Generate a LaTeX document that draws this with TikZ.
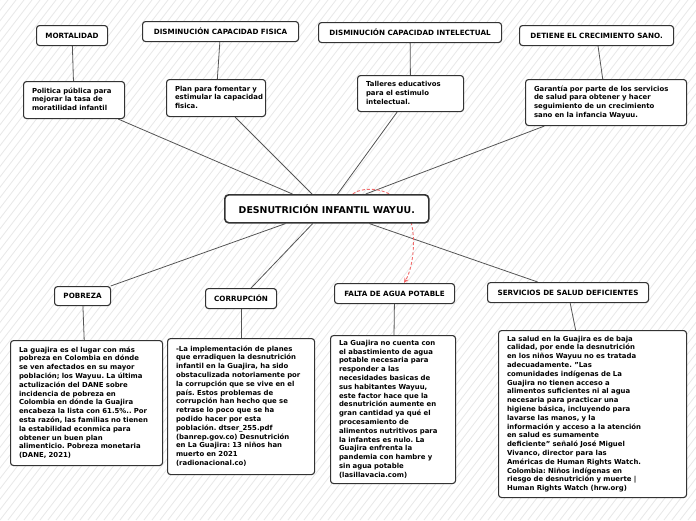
\documentclass[tikz,border=0pt]{standalone}
\usepackage{fontspec}
\setmainfont{DejaVu Sans}
\usepackage{tikz}
\usetikzlibrary{arrows.meta}
\usetikzlibrary{backgrounds}
\usetikzlibrary{calc}
\hfuzz=30pt
\hbadness=10000
\frenchspacing
\newcommand{\bodyfont}{\fontsize{6.9}{8.8}\selectfont\bfseries}
\newcommand{\headfont}{\fontsize{7.2}{9}\selectfont\bfseries}
\newcommand{\mainfont}{\fontsize{9.4}{11}\selectfont\bfseries}
\newcommand{\txtlines}[1]{\begin{tabular}{@{}l@{}}#1\end{tabular}}
\definecolor{hatchgray}{HTML}{E8E8E8}
\definecolor{boxline}{HTML}{333333}
\definecolor{linkgray}{HTML}{555555}
\definecolor{dashred}{HTML}{F26B6B}
\pgfdeclarelayer{hatch}
\pgfdeclarelayer{links}
\pgfsetlayers{hatch,links,main}
\begin{document}
\begin{tikzpicture}[x=1pt, y=-1pt]
	\tikzstyle{box}=[draw=boxline, fill=white, rounded corners=3pt, line width=1.1pt];
	\tikzstyle{head}=[box, font=\headfont, anchor=north west, align=center, inner sep=0pt];
	\tikzstyle{txt}=[box, font=\bodyfont, anchor=north west, align=left,
	                 inner xsep=8.5pt, inner ysep=0pt];
	\tikzstyle{link}=[draw=linkgray, line width=0.8pt];
	\tikzstyle{redlink}=[draw=dashred, line width=0.9pt, dash pattern=on 3pt off 2pt,
	                     -{Stealth[length=5pt, width=4.5pt]}];
	\useasboundingbox (0,0) rectangle (696,520);
	% background stripes
	\begin{pgfonlayer}{hatch}
	\fill[white] (0,0) rectangle (696,520);
	\begin{scope}
	\clip (0,0) rectangle (696,520);
	\foreach \i in {-400,-392,...,700}
	{\draw[hatchgray, line width=0.8pt] (\i,520) -- (\i+400,0);}
	\end{scope}
	\end{pgfonlayer}
	% top row
	\node[head, minimum width=71pt, minimum height=20pt] (mort) at (36,25) {MORTALIDAD};
	\node[head, minimum width=156pt, minimum height=20pt] (fisica) at (142,21) {DISMINUCIÓN CAPACIDAD FISICA};
	\node[head, minimum width=183pt, minimum height=20pt] (intel) at (318,22) {DISMINUCIÓN CAPACIDAD INTELECTUAL};
	\node[head, minimum width=154pt, minimum height=20pt] (sano) at (519,25) {DETIENE EL CRECIMIENTO SANO.};
	\node[txt, text width=84pt, minimum height=37pt] (politica) at (23,81)
	  {\txtlines{Politica pública para\\mejorar la tasa de\\moratilidad infantil}};
	\node[txt, text width=82pt, minimum height=37pt] (plan) at (166,79)
	  {\txtlines{Plan para fomentar y\\estimular la capacidad\\fisica.}};
	\node[txt, text width=89pt, minimum height=36pt] (talleres) at (357,75)
	  {\txtlines{Talleres educativos\\para el estimulo\\intelectual.}};
	\node[txt, text width=144pt, minimum height=46pt] (garantia) at (525,79)
	  {\txtlines{Garantía por parte de los servicios\\de salud para obtener y hacer\\seguimiento de un crecimiento\\sano en la infancia Wayuu.}};
	% centre
	\node[box, font=\mainfont, anchor=north west, rounded corners=4pt, line width=1.6pt,
	      minimum width=204pt, minimum height=28pt, inner sep=0pt] (central) at (224,194)
	  {DESNUTRICIÓN INFANTIL WAYUU.};
	% bottom row
	\node[head, minimum width=56pt, minimum height=19pt] (pobreza) at (54,286) {POBREZA};
	\node[head, minimum width=71pt, minimum height=20pt] (corrup) at (205,288) {CORRUPCIÓN};
	\node[head, minimum width=120pt, minimum height=20pt] (agua) at (334,283) {FALTA DE AGUA POTABLE};
	\node[head, minimum width=161pt, minimum height=20pt] (servicios) at (487,282) {SERVICIOS DE SALUD DEFICIENTES};
	\node[txt, text width=135pt, minimum height=125pt] (tpob) at (10,340)
	  {\txtlines{La guajira es el lugar con más\\pobreza en Colombia en dónde\\se ven afectados en su mayor\\población; los Wayuu. La última\\actulización del DANE sobre\\incidencia de pobreza en\\Colombia en dónde la Guajira\\encabeza la lista con 61.5\%.. Por\\esta razón, las familias no tienen\\la estabilidad econmica para\\obtener un buen plan\\alimenticio. Pobreza monetaria\\(DANE, 2021)}};
	\node[txt, text width=130pt, minimum height=136pt] (tcor) at (167,338)
	  {\txtlines{-La implementación de planes\\que erradiquen la desnutrición\\infantil en la Guajira, ha sido\\obstaculizada notoriamente por\\la corrupción que se vive en el\\país. Estos problemas de\\corrupción han hecho que se\\retrase lo poco que se ha\\podido hacer por esta\\población. dtser\_255.pdf\\(banrep.gov.co) Desnutrición\\en La Guajira: 13 niños han\\muerto en 2021\\(radionacional.co)}};
	\node[txt, text width=108pt, minimum height=148pt] (tagua) at (330,335)
	  {\txtlines{La Guajira no cuenta con\\el abastimiento de agua\\potable necesaria para\\responder a las\\necesidades basicas de\\sus habitantes Wayuu,\\este factor hace que la\\desnutrición aumente en\\gran cantidad ya qué el\\procesamiento de\\alimentos nutritivos para\\la infantes es nulo. La\\Guajira enfrenta la\\pandemia con hambre y\\sin agua potable\\(lasillavacia.com)}};
	\node[txt, text width=171pt, minimum height=167pt] (tsal) at (498,330)
	  {\txtlines{La salud en la Guajira es de baja\\calidad, por ende la desnutrición\\en los niños Wayuu no es tratada\\adecuadamente. "Las\\comunidades indígenas de La\\Guajira no tienen acceso a\\alimentos suficientes ni al agua\\necesaria para practicar una\\higiene básica, incluyendo para\\lavarse las manos, y la\\información y acceso a la atención\\en salud es sumamente\\deficiente" señaló José Miguel\\Vivanco, director para las\\Américas de Human Rights Watch.\\Colombia: Niños indígenas en\\riesgo de desnutrición y muerte |\\Human Rights Watch (hrw.org)}};
	% connectors
	\begin{pgfonlayer}{links}
	\foreach \a/\b in {mort/politica, fisica/plan, intel/talleres, sano/garantia,
	                   central/politica, central/plan, central/talleres, central/garantia,
	                   central/pobreza, central/corrup, central/servicios,
	                   pobreza/tpob, corrup/tcor, agua/tagua, servicios/tsal}
	{\draw[link] (\a) -- (\b);}
	\draw[redlink] ($(central.north)+(26,0)$) .. controls (362,186) and (400,184) .. (411,222)
	  .. controls (416,240) and (413,268) .. (agua.north -| 404,0);
	\end{pgfonlayer}
\end{tikzpicture}
\end{document}
